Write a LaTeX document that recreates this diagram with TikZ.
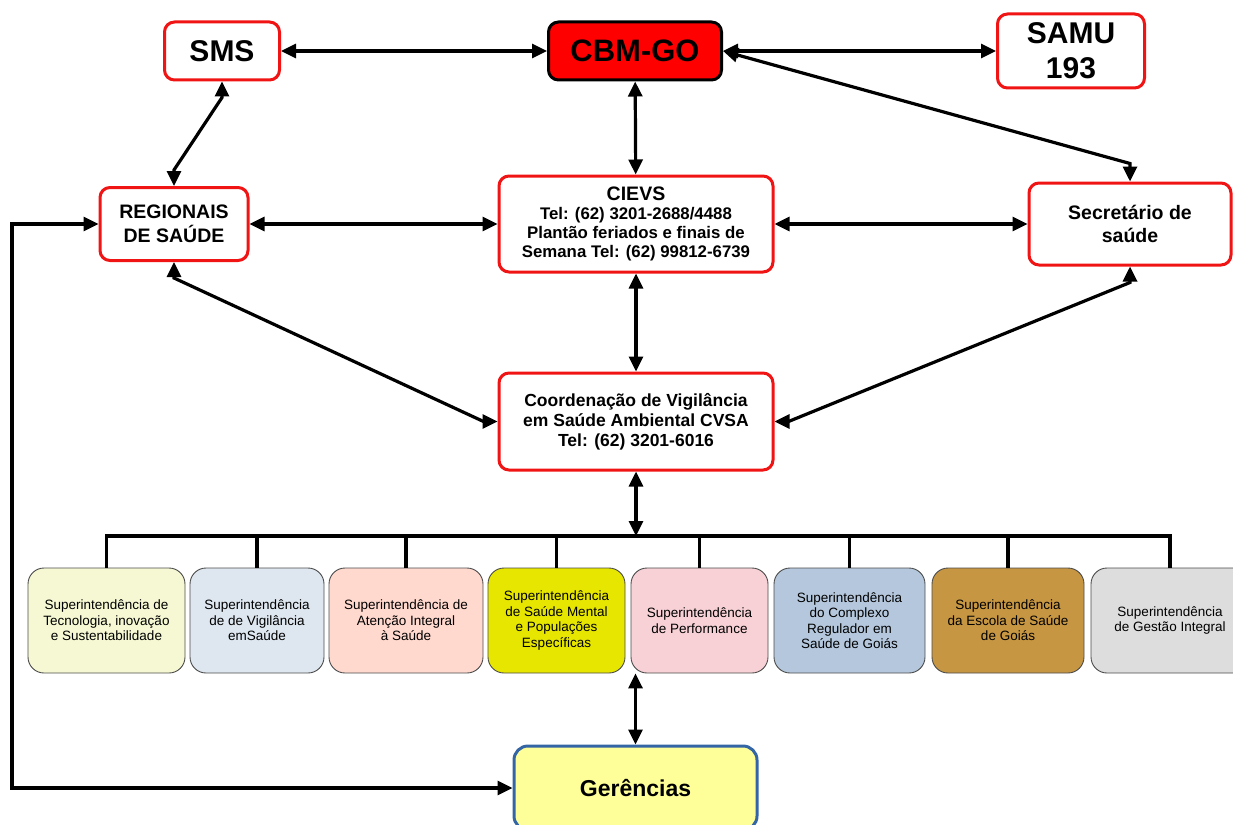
\documentclass[tikz,border=0pt]{standalone}
\usepackage{fontspec}
\setmainfont{Liberation Sans}
\usetikzlibrary{positioning,shapes,arrows.meta}

\definecolor{boxred}{RGB}{240,20,20}
\definecolor{geredge}{RGB}{52,101,164}
\definecolor{gerfill}{RGB}{255,255,153}
\definecolor{subA}{RGB}{245,248,210}
\definecolor{subB}{RGB}{222,230,239}
\definecolor{subC}{RGB}{255,216,206}
\definecolor{subD}{RGB}{230,230,0}
\definecolor{subE}{RGB}{247,209,213}
\definecolor{subF}{RGB}{180,199,220}
\definecolor{subG}{RGB}{198,150,66}
\definecolor{subH}{RGB}{221,221,221}

\tikzset{
  redbox/.style={draw=boxred, line width=3pt, rounded corners=10pt, fill=white,
    align=center, inner sep=0pt},
  subbox/.style={draw=black!70, line width=0.9pt, rounded corners=16pt, align=center,
    minimum height=105pt, inner sep=0pt, font=\fontsize{13.5}{15.5}\selectfont},
  >={Triangle[length=15pt,width=14pt]},
}

\begin{document}
\begin{tikzpicture}[x=1pt, y=-1pt, line width=3.2pt]
	\useasboundingbox (0,0) rectangle (1233,824);
	% top row
	\node[redbox, minimum width=115pt, minimum height=58pt, font=\bfseries\fontsize{30}{34}\selectfont] (sms) at (222,51) {SMS};
	\node[redbox, draw=black, fill=red, minimum width=173pt, minimum height=58pt, font=\bfseries\fontsize{31}{34}\selectfont] (cbm) at (635,51) {CBM-GO};
	\node[redbox, minimum width=147pt, minimum height=74pt, font=\bfseries\fontsize{30}{35}\selectfont] (samu) at (1071,51) {SAMU\\193};
	% middle
	\node[redbox, minimum width=148pt, minimum height=73pt, font=\bfseries\fontsize{19.5}{23.5}\selectfont] (reg) at (174,224) {REGIONAIS\\DE SAÚDE};
	\node[redbox, minimum width=274pt, minimum height=96pt, font=\bfseries\fontsize{16.8}{19}\selectfont] (cievs) at (636,224)
		{{\fontsize{19.5}{20}\selectfont CIEVS}\\Tel: (62) 3201-2688/4488\\Plantão feriados e finais de\\Semana Tel: (62) 99812-6739};
	\node[redbox, minimum width=202pt, minimum height=82pt, font=\bfseries\fontsize{19.5}{23.5}\selectfont] (sec) at (1130,224) {Secretário de\\saúde};
	\node[redbox, minimum width=274pt, minimum height=97pt, font=\bfseries\fontsize{17.5}{20}\selectfont] (coord) at (636,421.5)
		{Coordenação de Vigilância\\em Saúde Ambiental CVSA\\Tel: (62) 3201-6016};
	% superintendencias
	\node[subbox, fill=subA, minimum width=157pt] (sub1) at (106.5,620.5) {Superintendência de\\Tecnologia, inovação\\e Sustentabilidade};
	\node[subbox, fill=subB, minimum width=134pt] (sub2) at (257,620.5) {Superintendência\\de de Vigilância\\emSaúde};
	\node[subbox, fill=subC, minimum width=154pt] (sub3) at (406,620.5) {Superintendência de\\Atenção Integral\\à Saúde};
	\node[subbox, fill=subD, minimum width=137pt] (sub4) at (556.5,620.5) {Superintendência\\de Saúde Mental\\e Populações\\Específicas};
	\node[subbox, fill=subE, minimum width=137pt] (sub5) at (699.5,620.5) {Superintendência\\de Performance};
	\node[subbox, fill=subF, minimum width=151pt] (sub6) at (849.5,620.5) {Superintendência\\do Complexo\\Regulador em\\Saúde de Goiás};
	\node[subbox, fill=subG, minimum width=152pt] (sub7) at (1008,620.5) {Superintendência\\da Escola de Saúde\\de Goiás};
	\node[subbox, fill=subH, minimum width=158pt] (sub8) at (1170,620.5) {Superintendência\\de Gestão Integral};
	\node[draw=geredge, fill=gerfill, line width=3pt, rounded corners=14pt, minimum width=243pt, minimum height=84pt,
		font=\bfseries\fontsize{23}{26}\selectfont] (gere) at (635.5,788) {Gerências};
	\coordinate (bar) at (636,536);
	\coordinate (lft) at (12,224);

	% links
	\draw[<->] (sms) -- (cbm);
	\draw[<->] (cbm) -- (samu);
	\draw[<->] (cbm.east) -- ([yshift=18pt]sec.north) -- (sec.north);
	\draw[<->] (sms.south) -- ++(0,16) -- ([yshift=16pt]reg.north) -- (reg.north);
	\draw[<->] (cbm) -- (cievs);
	\draw[<->] (reg) -- (cievs);
	\draw[<->] (cievs) -- (sec);
	\draw[<->] (cievs) -- (coord);
	\draw[<->] (reg.south) -- ++(0,16) -- ([xshift=-14pt]coord.west) -- (coord.west);
	\draw[<->] (sec.south) -- ++(0,16) -- ([xshift=14pt]coord.east) -- (coord.east);
	\draw[<->] (coord) -- (bar);
	\draw (sub1.north) |- (sub8.north |- bar) -- (sub8.north);
	\foreach \i in {2,...,7}
		\draw (sub\i.north) -- (sub\i.north |- bar);
	\draw[<->] (gere.north |- sub5.south) -- (gere.north);
	\draw[<->] (reg.west) -- (lft) |- (gere.west);
\end{tikzpicture}
\end{document}
